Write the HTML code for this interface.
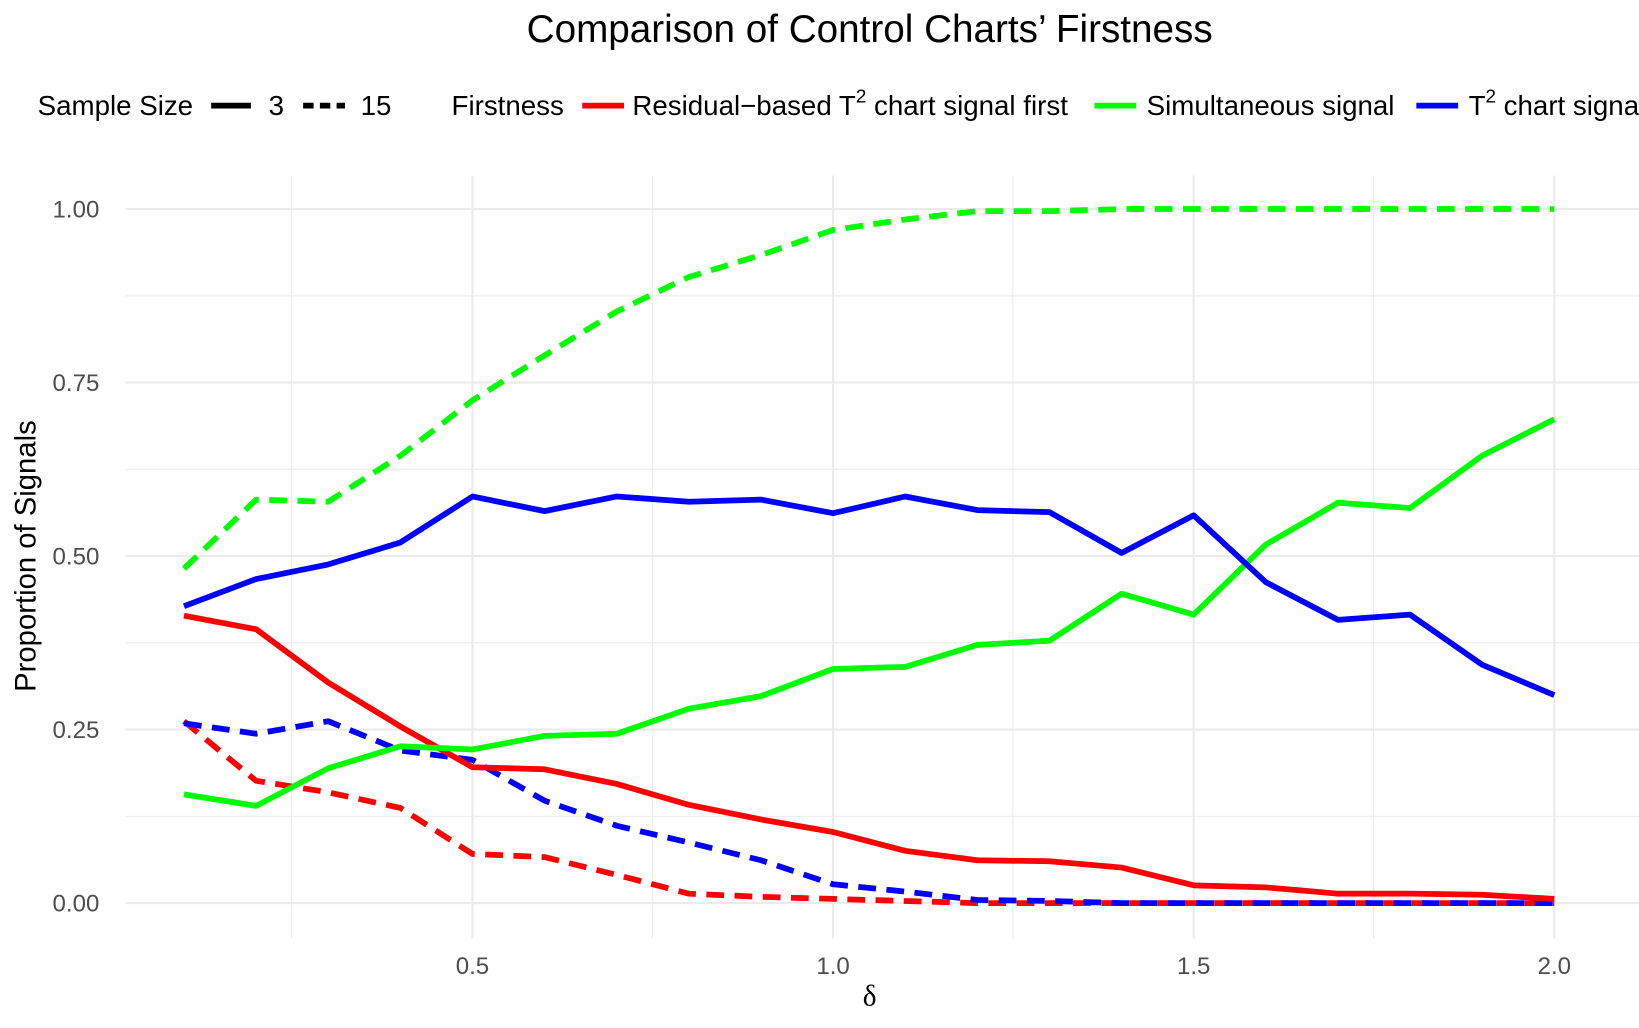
<!DOCTYPE html>
<html><head><meta charset="utf-8"><style>html,body{margin:0;padding:0;background:#fff}svg{display:block}</style></head>
<body>
<svg width="1639" height="1028" viewBox="0 0 1568 983.5" xmlns="http://www.w3.org/2000/svg" font-family="Liberation Sans, sans-serif">
<rect width="1568" height="983.5" fill="#fff"/>
<g stroke="#ebebeb" stroke-width="1">
<line x1="120" x2="1568" y1="283" y2="283"/><line x1="120" x2="1568" y1="449" y2="449"/><line x1="120" x2="1568" y1="615" y2="615"/><line x1="120" x2="1568" y1="781" y2="781"/>
<line y1="168" y2="898" x1="279" x2="279"/><line y1="168" y2="898" x1="624" x2="624"/><line y1="168" y2="898" x1="969" x2="969"/><line y1="168" y2="898" x1="1314" x2="1314"/>
</g>
<g stroke="#ebebeb" stroke-width="2">
<line x1="120" x2="1568" y1="200" y2="200"/><line x1="120" x2="1568" y1="366" y2="366"/><line x1="120" x2="1568" y1="532" y2="532"/><line x1="120" x2="1568" y1="698" y2="698"/><line x1="120" x2="1568" y1="864" y2="864"/>
<line y1="168" y2="898" x1="452" x2="452"/><line y1="168" y2="898" x1="797" x2="797"/><line y1="168" y2="898" x1="1142" x2="1142"/><line y1="168" y2="898" x1="1487" x2="1487"/>
</g>
<g fill="none" stroke-width="5.5" stroke-linejoin="round">
<polyline stroke="#ff0000" stroke-dasharray="17 10" points="176,690 245,747 314,758 383,773 452,817 521,820 590,837 659,855 728,858 797,860 866,862 935,864 1004,864 1073,864 1142,864 1211,864 1280,864 1349,864 1418,864 1487,864"/>
<polyline stroke="#0000ff" stroke-dasharray="17 10" points="176,692 245,702 314,690 383,718 452,727 521,766 590,790 659,806 728,823 797,846 866,853 935,861 1004,862 1073,864 1142,864 1211,864 1280,864 1349,864 1418,864 1487,864"/>
<polyline stroke="#00ff00" stroke-dasharray="17 10" points="176,544 245,478 314,480 383,436 452,383 521,340 590,298 659,265 728,244 797,220 866,210 935,202 1004,202 1073,200 1142,200 1211,200 1280,200 1349,200 1418,200 1487,200"/>
<polyline stroke="#ff0000" points="176,589 245,602 314,653 383,695 452,734 521,736 590,750 659,770 728,784 797,796 866,814 935,823 1004,824 1073,830 1142,847 1211,849 1280,855 1349,855 1418,856 1487,860"/>
<polyline stroke="#00ff00" points="176,760 245,771 314,735 383,714 452,717 521,704 590,702 659,678 728,666 797,640 866,638 935,617 1004,613 1073,568 1142,588 1211,521 1280,481 1349,486 1418,436 1487,401"/>
<polyline stroke="#0000ff" points="176,580 245,554 314,540 383,519 452,475 521,489 590,475 659,480 728,478 797,491 866,475 935,488 1004,490 1073,529 1142,493 1211,557 1280,593 1349,588 1418,636 1487,665"/>
</g>
<g fill="#4d4d4d" font-size="23" text-anchor="end">
<text x="95" y="208">1.00</text><text x="95" y="374">0.75</text><text x="95" y="540">0.50</text><text x="95" y="706">0.25</text><text x="95" y="872">0.00</text>
</g>
<g fill="#4d4d4d" font-size="23" text-anchor="middle">
<text x="452" y="932">0.5</text><text x="797" y="932">1.0</text><text x="1142" y="932">1.5</text><text x="1487" y="932">2.0</text>
</g>
<text x="832" y="962" font-size="28" text-anchor="middle" font-family="Liberation Serif, serif">δ</text>
<text transform="translate(34,532) rotate(-90)" font-size="28" text-anchor="middle">Proportion of Signals</text>
<text x="832" y="40" font-size="37" text-anchor="middle">Comparison of Control Charts’ Firstness</text>
<g font-size="26.5">
<text x="36" y="110">Sample Size</text>
<line x1="202" x2="240" y1="101" y2="101" stroke="#000" stroke-width="5.5"/>
<text x="257" y="110">3</text>
<line x1="290" x2="330" y1="101" y2="101" stroke="#000" stroke-width="5.5" stroke-dasharray="10 6"/>
<text x="345" y="110">15</text>
<text x="432" y="110">Firstness</text>
<line x1="557" x2="597" y1="101" y2="101" stroke="#ff0000" stroke-width="5.5"/>
<text x="605" y="110">Residual−based T<tspan font-size="18" dy="-12">2</tspan><tspan dy="12"> chart signal first</tspan></text>
<line x1="1047" x2="1087" y1="101" y2="101" stroke="#00ff00" stroke-width="5.5"/>
<text x="1097" y="110">Simultaneous signal</text>
<line x1="1355" x2="1395" y1="101" y2="101" stroke="#0000ff" stroke-width="5.5"/>
<text x="1405" y="110">T<tspan font-size="18" dy="-12">2</tspan><tspan dy="12"> chart signal first</tspan></text>
</g>
</svg>
</body></html>
